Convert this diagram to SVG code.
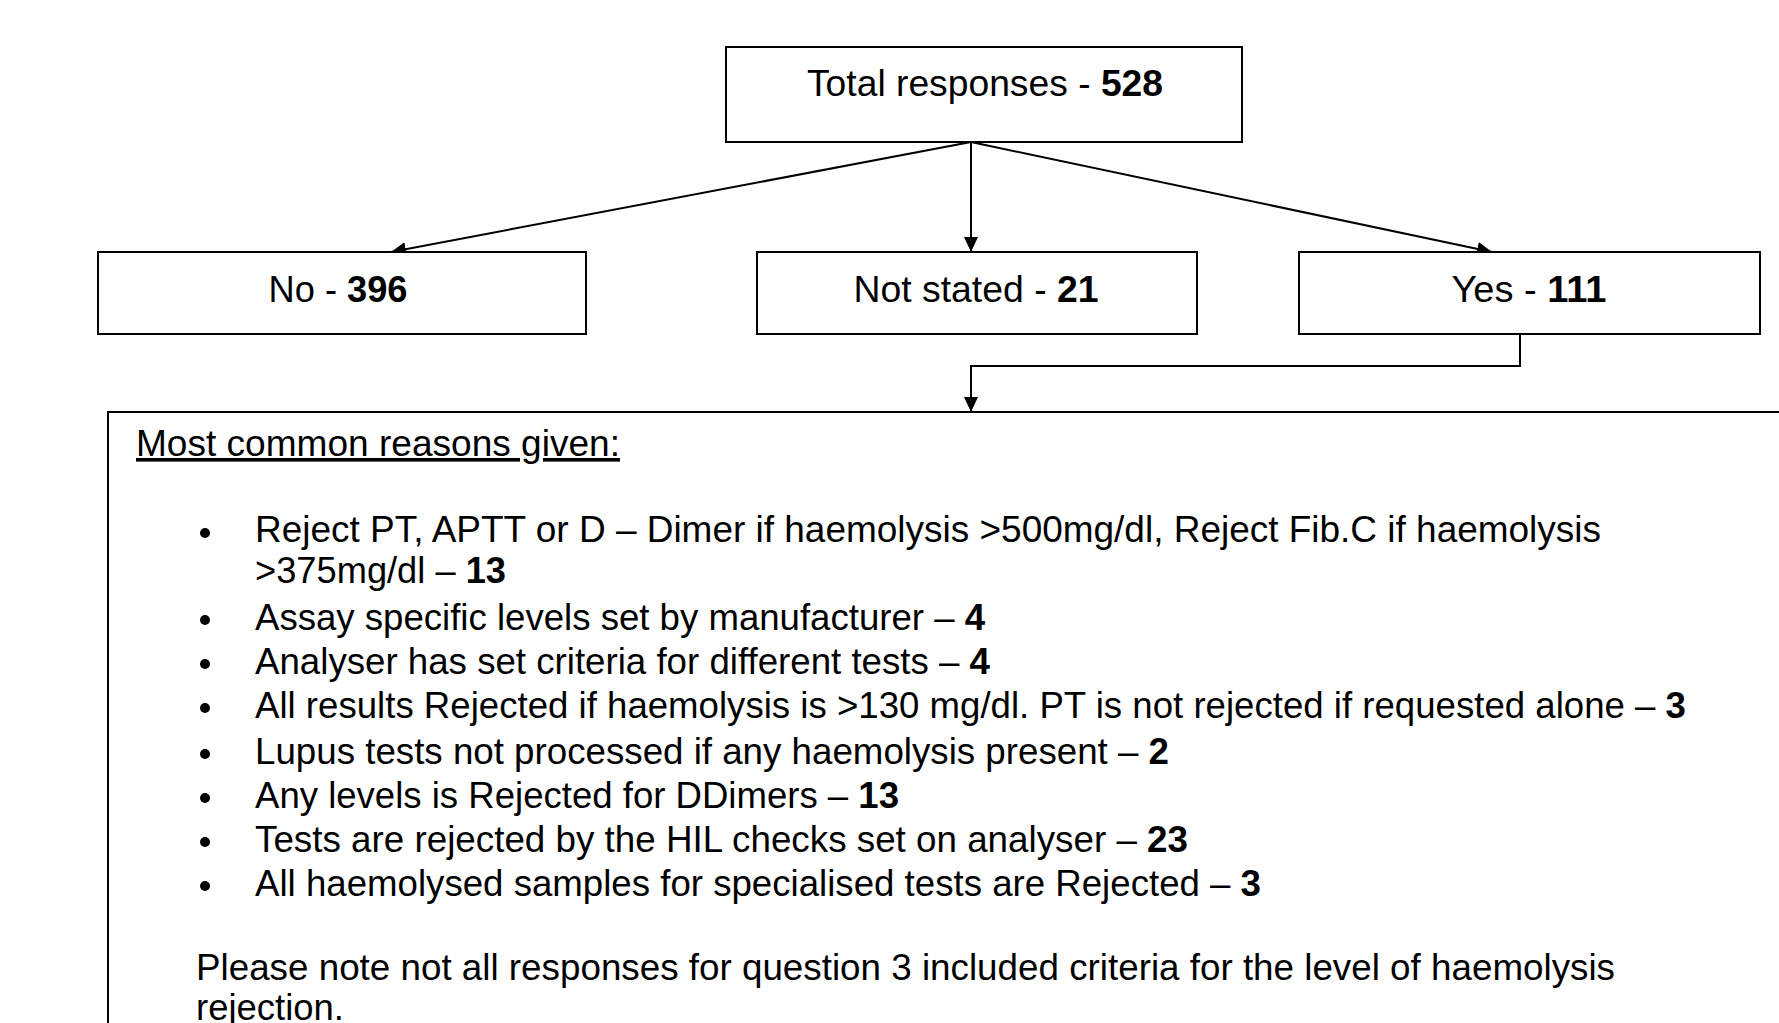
<svg xmlns="http://www.w3.org/2000/svg" width="1779" height="1023" viewBox="0 0 1779 1023">
<style>
.box{fill:#fff;stroke:#000;stroke-width:2}
.node{font-family:"Liberation Sans",Arial,sans-serif;font-size:37px;fill:#000;text-anchor:middle}
.body{font-family:"Liberation Sans",Arial,sans-serif;font-size:36px;fill:#000}
.b{font-weight:bold}
.conn{fill:none;stroke:#000;stroke-width:2}
</style>
<defs>
<marker id="arr" markerUnits="userSpaceOnUse" markerWidth="18" markerHeight="16" refX="15" refY="7" orient="auto">
<path d="M0,0 L15,7 L0,14 z" fill="#000"/>
</marker>
</defs>
<rect width="1779" height="1023" fill="#fff"/>
<g id="connectors">
<path class="conn" d="M971,142 L391,252" marker-end="url(#arr)"/>
<path class="conn" d="M971,142 L971,252" marker-end="url(#arr)"/>
<path class="conn" d="M971,142 L1492,252" marker-end="url(#arr)"/>
<path class="conn" d="M1520,334 L1520,366 L971,366 L971,412" marker-end="url(#arr)"/>
</g>
<g id="total">
<rect class="box" x="726" y="47" width="516" height="95"/>
<text class="node" x="985" y="96" textLength="356" lengthAdjust="spacingAndGlyphs">Total responses - <tspan class="b">528</tspan></text>
</g>
<g id="no">
<rect class="box" x="98" y="252" width="488" height="82"/>
<text class="node" x="338" y="302" textLength="139" lengthAdjust="spacingAndGlyphs">No - <tspan class="b">396</tspan></text>
</g>
<g id="notstated">
<rect class="box" x="757" y="252" width="440" height="82"/>
<text class="node" x="976" y="302" textLength="245" lengthAdjust="spacingAndGlyphs">Not stated - <tspan class="b">21</tspan></text>
</g>
<g id="yes">
<rect class="box" x="1299" y="252" width="461" height="82"/>
<text class="node" x="1529" y="302" textLength="155" lengthAdjust="spacingAndGlyphs">Yes - <tspan class="b">111</tspan></text>
</g>
<g id="reasons">
<rect class="box" x="108" y="412" width="1700" height="700"/>
<text class="body" x="136" y="456" textLength="484" lengthAdjust="spacingAndGlyphs" text-decoration="underline">Most common reasons given:</text>
<g fill="#000">
<circle cx="205" cy="533" r="5"/>
<circle cx="205" cy="620" r="5"/>
<circle cx="205" cy="664" r="5"/>
<circle cx="205" cy="708" r="5"/>
<circle cx="205" cy="754" r="5"/>
<circle cx="205" cy="798" r="5"/>
<circle cx="205" cy="842" r="5"/>
<circle cx="205" cy="886" r="5"/>
</g>
<text class="body" x="255" y="542" textLength="1346" lengthAdjust="spacingAndGlyphs">Reject PT, APTT or D – Dimer if haemolysis &gt;500mg/dl, Reject Fib.C if haemolysis</text>
<text class="body" x="255" y="583" textLength="251" lengthAdjust="spacingAndGlyphs">&gt;375mg/dl – <tspan class="b">13</tspan></text>
<text class="body" x="255" y="630" textLength="730" lengthAdjust="spacingAndGlyphs">Assay specific levels set by manufacturer – <tspan class="b">4</tspan></text>
<text class="body" x="255" y="674" textLength="735" lengthAdjust="spacingAndGlyphs">Analyser has set criteria for different tests – <tspan class="b">4</tspan></text>
<text class="body" x="255" y="718" textLength="1431" lengthAdjust="spacingAndGlyphs">All results Rejected if haemolysis is &gt;130 mg/dl. PT is not rejected if requested alone – <tspan class="b">3</tspan></text>
<text class="body" x="255" y="764" textLength="914" lengthAdjust="spacingAndGlyphs">Lupus tests not processed if any haemolysis present – <tspan class="b">2</tspan></text>
<text class="body" x="255" y="808" textLength="644" lengthAdjust="spacingAndGlyphs">Any levels is Rejected for DDimers – <tspan class="b">13</tspan></text>
<text class="body" x="255" y="852" textLength="933" lengthAdjust="spacingAndGlyphs">Tests are rejected by the HIL checks set on analyser – <tspan class="b">23</tspan></text>
<text class="body" x="255" y="896" textLength="1006" lengthAdjust="spacingAndGlyphs">All haemolysed samples for specialised tests are Rejected – <tspan class="b">3</tspan></text>
<text class="body" x="196" y="980" textLength="1419" lengthAdjust="spacingAndGlyphs">Please note not all responses for question 3 included criteria for the level of haemolysis</text>
<text class="body" x="196" y="1020" textLength="148" lengthAdjust="spacingAndGlyphs">rejection.</text>
</g>
</svg>
